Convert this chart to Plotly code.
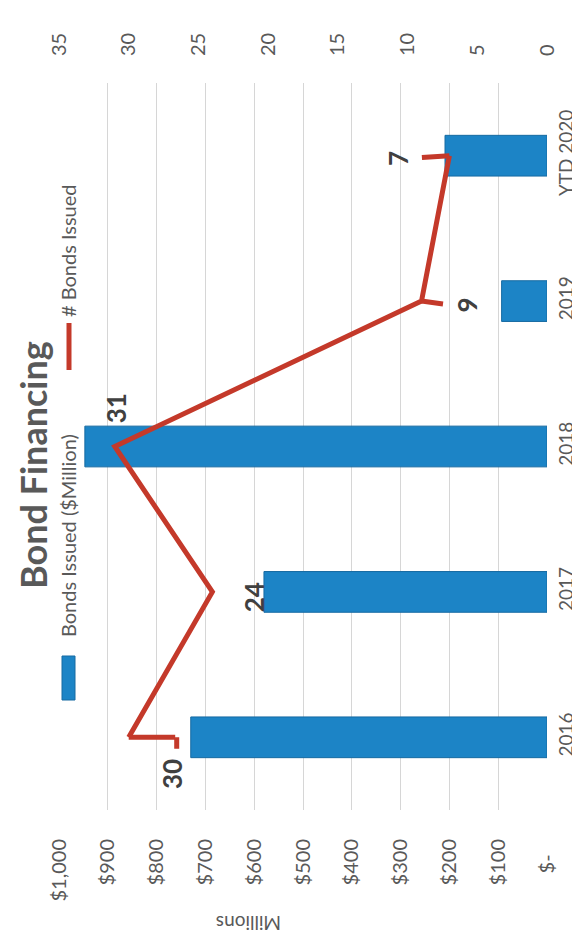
import plotly.graph_objects as go

# ---- data ----
categories = ["2016", "2017", "2018", "2019", "YTD 2020"]
bonds_issued_musd = [730, 580, 947, 93, 209]      # $ millions
bonds_count = [30, 24, 31, 9, 7]                  # number of bonds issued
usd_tick_vals = [0, 100, 200, 300, 400, 500, 600, 700, 800, 900, 1000]
usd_tick_text = ["$-\u00a0\u00a0\u00a0", "$100", "$200", "$300", "$400", "$500",
                 "$600", "$700", "$800", "$900", "$1,000"]
count_tick_vals = [0, 5, 10, 15, 20, 25, 30, 35]

# ---- style ----
W, H = 580, 940
ML, MR, MT, MB = 51, 41, 75, 138
PW, PH = W - ML - MR, H - MT - MB
BLUE = "#1c84c6"
BLUE_EDGE = "#166aa2"
RED = "#c4392a"
GRAY = "#595959"
DARK = "#404040"
GRID = "#d6d6d6"
FONT = "Lato"

def px_x(x):
    return (x - ML) / PW

def px_y(y):
    return (H - MB - y) / PH

# pixel offsets for data labels (dx to the right, dy downward in the picture)
label_offsets = [(44, 37), (42, 5), (1, -38), (46, 4), (-52, 3)]

fig = go.Figure()

fig.add_trace(go.Bar(
    y=categories, x=bonds_issued_musd, orientation="h",
    xaxis="x", yaxis="y", name="Bonds Issued ($Million)",
    marker=dict(color=BLUE, line=dict(color=BLUE_EDGE, width=1)),
    showlegend=False,
))

fig.add_trace(go.Scatter(
    y=categories, x=bonds_count, xaxis="x2", yaxis="y",
    mode="lines", name="# Bonds Issued",
    line=dict(color=RED, width=5),
    showlegend=False,
))

annotations = []
# data labels (y given as category index)
for i, (val, (dx, dy)) in enumerate(zip(bonds_count, label_offsets)):
    annotations.append(dict(
        x=val, y=i, xref="x2", yref="y", text=str(val), showarrow=False,
        textangle=-90, xshift=dx, yshift=-dy,
        font=dict(family=FONT, size=26, color=DARK, weight="bold"),
        xanchor="center", yanchor="middle",
    ))

# leader stubs (Excel label leader lines)
def stub(i, ax, ay, xshift=0, yshift=0):
    annotations.append(dict(
        x=bonds_count[i], y=i, xref="x2", yref="y", text="",
        showarrow=True, arrowhead=0, arrowwidth=5, arrowcolor=RED,
        ax=ax, ay=ay, xshift=xshift, yshift=yshift,
    ))

stub(0, 48, 0)
stub(0, 0, 13, xshift=48)
stub(3, 23, 3)
stub(4, -29, 2)

# title
annotations.append(dict(
    x=px_x(25), y=px_y(457), xref="paper", yref="paper", text="Bond Financing",
    showarrow=False, textangle=-90, xanchor="center", yanchor="middle",
    font=dict(family=FONT, size=36, color=GRAY, weight="bold"),
))
# legend texts
annotations.append(dict(
    x=px_x(60), y=px_y(528), xref="paper", yref="paper",
    text="Bonds Issued ($Million)", showarrow=False, textangle=-90,
    xanchor="center", yanchor="middle",
    font=dict(family=FONT, size=20, color=GRAY),
))
annotations.append(dict(
    x=px_x(60), y=px_y(243), xref="paper", yref="paper",
    text="# Bonds Issued", showarrow=False, textangle=-90,
    xanchor="center", yanchor="middle",
    font=dict(family=FONT, size=20, color=GRAY),
))
# axis title (upside down, as in the scan)
annotations.append(dict(
    x=px_x(241), y=px_y(915), xref="paper", yref="paper",
    text="Millions", showarrow=False, textangle=180,
    xanchor="center", yanchor="middle",
    font=dict(family=FONT, size=19, color=GRAY),
))

shapes = [
    dict(type="rect", xref="paper", yref="paper",
         x0=px_x(54), x1=px_x(67), y0=px_y(692), y1=px_y(648),
         fillcolor=BLUE, line=dict(color=BLUE_EDGE, width=1)),
    dict(type="line", xref="paper", yref="paper",
         x0=px_x(61), x1=px_x(61), y0=px_y(362), y1=px_y(315),
         line=dict(color=RED, width=5)),
]

fig.update_layout(
    width=W, height=H,
    margin=dict(l=ML, r=MR, t=MT, b=MB, pad=0),
    paper_bgcolor="white", plot_bgcolor="white",
    bargap=0.72,
    font=dict(family=FONT, color=GRAY),
    xaxis=dict(
        range=[1000, 0], autorange=False, tickvals=usd_tick_vals, ticktext=usd_tick_text,
        tickangle=-90, side="bottom", showgrid=True, gridcolor=GRID, gridwidth=1,
        zeroline=False, showline=False, ticks="", automargin=False,
        tickfont=dict(family=FONT, size=20, color=GRAY), ticklabelstandoff=24,
    ),
    xaxis2=dict(
        range=[35, 0], autorange=False, tickvals=count_tick_vals, overlaying="x", side="top",
        tickangle=-90, showgrid=False, zeroline=False, showline=False,
        ticks="", automargin=False,
        tickfont=dict(family=FONT, size=20, color=GRAY), ticklabelstandoff=26,
    ),
    yaxis=dict(
        type="category", categoryorder="array", categoryarray=categories,
        range=[-0.5, len(categories) - 0.5], autorange=False,
        side="right", tickangle=-90, showgrid=False,
        zeroline=False, showline=False, ticks="", automargin=False,
        tickfont=dict(family=FONT, size=19, color=GRAY), ticklabelstandoff=6,
    ),
    annotations=annotations,
    shapes=shapes,
    showlegend=False,
)

fig.write_html("out.html")
